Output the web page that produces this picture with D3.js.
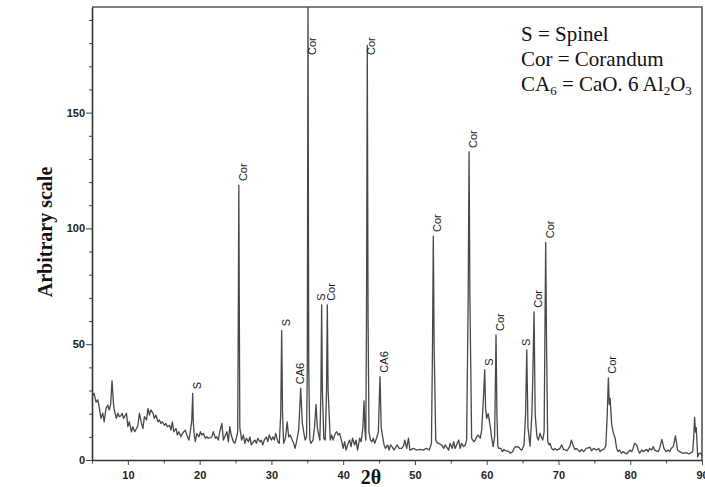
<!DOCTYPE html>
<html>
<head>
<meta charset="utf-8">
<script src="https://cdn.jsdelivr.net/npm/d3@7"></script>
<style>
  html, body { margin: 0; padding: 0; background: #fff; }
  svg { display: block; }
</style>
</head>
<body>
<svg id="chart" width="705" height="487"></svg>
<script>
// XRD pattern: 2θ (degrees) and intensity (arbitrary units)
const twoTheta = [
  5.0, 5.3, 5.56, 5.8, 6.0, 6.25, 6.5, 6.7, 6.95, 7.2, 7.4, 7.6, 7.79, 8.0, 8.1, 8.4, 8.6, 8.8, 9.0, 9.2,
  9.4, 9.8, 10.0, 10.2, 10.5, 10.7, 10.95, 11.2, 11.4, 11.6, 11.9, 12.1, 12.3, 12.6, 12.8, 13.0, 13.2, 13.5, 13.7, 13.9,
  14.2, 14.4, 14.6, 14.8, 15.1, 15.3, 15.5, 15.8, 16.0, 16.2, 16.4, 16.7, 16.9, 17.1, 17.4, 17.6, 17.8, 18.0, 18.3, 18.5,
  18.7, 18.9, 19.03, 19.12, 19.25, 19.4, 19.6, 19.9, 20.1, 20.3, 20.5, 20.8, 21.0, 21.2, 21.5, 21.7, 21.9, 22.2, 22.4, 22.6,
  22.8, 23.1, 23.3, 23.5, 23.8, 24.0, 24.2, 24.4, 24.7, 24.9, 25.1, 25.3, 25.4, 25.46, 25.52, 25.6, 25.85, 26.1, 26.3, 26.5,
  26.8, 27.0, 27.2, 27.5, 27.7, 27.9, 28.1, 28.4, 28.6, 28.8, 29.0, 29.3, 29.5, 29.7, 30.0, 30.2, 30.4, 30.6, 30.9, 31.1,
  31.3, 31.43, 31.55, 31.7, 31.95, 32.2, 32.4, 32.6, 32.9, 33.1, 33.3, 33.5, 33.8, 34.08, 34.3, 34.5, 34.7, 34.9, 35.0, 35.1,
  35.2, 35.35, 35.5, 35.8, 36.0, 36.22, 36.4, 36.55, 36.75, 36.9, 37.0, 37.1, 37.3, 37.5, 37.68, 37.79, 37.9, 38.2, 38.4, 38.6,
  38.9, 39.1, 39.3, 39.5, 39.8, 40.0, 40.2, 40.4, 40.7, 40.9, 41.1, 41.3, 41.6, 41.8, 42.0, 42.3, 42.5, 42.75, 42.9, 43.05,
  43.15, 43.25, 43.36, 43.47, 43.6, 43.8, 44.0, 44.2, 44.4, 44.65, 44.9, 45.13, 45.3, 45.5, 45.7, 45.9, 46.2, 46.4, 46.6, 46.8,
  47.1, 47.5, 47.8, 48.15, 48.4, 48.6, 48.85, 49.1, 49.3, 49.8, 50.2, 50.7, 51.1, 51.6, 52.0, 52.3, 52.45, 52.56, 52.67, 52.9,
  53.1, 53.3, 53.7, 54.0, 54.2, 54.7, 54.9, 55.2, 55.4, 55.6, 55.9, 56.1, 56.3, 56.5, 56.8, 57.0, 57.2, 57.42, 57.54, 57.66,
  57.9, 58.2, 58.4, 58.6, 58.8, 59.1, 59.3, 59.6, 59.72, 59.85, 60.0, 60.2, 60.5, 60.7, 60.9, 61.1, 61.22, 61.3, 61.42, 61.55,
  61.7, 61.95, 62.2, 62.4, 62.6, 63.1, 63.3, 63.6, 63.8, 64.0, 64.5, 64.7, 64.9, 65.2, 65.42, 65.58, 65.75, 66.04, 66.3, 66.45,
  66.6, 66.75, 67.0, 67.2, 67.43, 67.6, 67.8, 68.0, 68.1, 68.22, 68.34, 68.5, 68.7, 68.82, 69.05, 69.3, 69.5, 69.75, 70.0, 70.2,
  70.45, 70.7, 71.2, 71.4, 71.6, 71.8, 72.1, 72.3, 72.5, 73.0, 73.2, 73.5, 73.9, 74.4, 74.6, 74.9, 75.3, 75.6, 75.8, 76.0,
  76.3, 76.6, 76.8, 76.95, 77.08, 77.2, 77.4, 77.6, 77.9, 78.1, 78.3, 78.5, 78.8, 79.0, 79.5, 79.96, 80.2, 80.4, 80.6, 80.9,
  81.1, 81.3, 81.6, 81.8, 82.3, 82.5, 82.7, 83.0, 83.2, 83.4, 83.9, 84.1, 84.4, 84.7, 85.0, 85.3, 85.5, 85.7, 86.0, 86.3,
  86.6, 86.9, 87.3, 87.8, 88.2, 88.7, 88.85, 88.97, 89.1, 89.2, 89.4, 89.6, 89.8, 90.0
];
const intensity = [
  27.5, 28.8, 25, 26, 23, 18, 20.2, 16.5, 22.3, 23.7, 21.6, 24, 34.2, 24, 21.6, 18, 20.2, 18.7, 19, 20.2,
  18, 20.2, 14.4, 16.5, 12.2, 14.4, 12.2, 13.6, 15, 20.2, 15.8, 13.6, 18.7, 17.3, 22.3, 19.4, 21.6, 20.2, 18, 19.4,
  16.5, 17.3, 15.8, 16.5, 15, 15.8, 14.4, 15, 12.9, 16.5, 12.2, 13.6, 10.8, 12.2, 10, 11.5, 12.2, 12.9, 10, 8.6,
  12.2, 17, 28.8, 16, 10.8, 7.9, 11.5, 10, 12.2, 10.8, 11.5, 9.4, 10, 9.4, 9.7, 10, 12.2, 9.4, 10, 8.6,
  12.2, 15.8, 8.6, 10, 12.2, 7.9, 14.4, 10.8, 7.9, 7.2, 9.4, 12, 70, 118.7, 70, 14, 8.6, 10.8, 7.2, 9.4,
  7.9, 10, 6.5, 7.9, 8.6, 7.2, 9.4, 7.9, 8.6, 6.5, 8.6, 10, 7.9, 10.8, 8.6, 10, 8.6, 11.5, 7.9, 7.2,
  20, 56, 20, 7.2, 9.4, 16.5, 10, 10.8, 8.6, 7.2, 5, 7.9, 12.9, 31, 16, 12.2, 8.6, 10, 40, 200,
  40, 9, 7.2, 8.6, 14, 24, 14, 11.5, 8.6, 30, 67, 30, 9.4, 8.6, 30, 67, 30, 8.6, 10.8, 8.6,
  11.5, 12.2, 10.8, 11.5, 7.9, 5, 7.9, 4.3, 7.2, 8.6, 5.8, 9.4, 6.5, 8.6, 4.3, 9.4, 7.9, 14, 25.5, 12,
  8.6, 60, 179, 60, 12, 8.6, 7.9, 9.4, 7.2, 9.4, 12, 36, 14, 10, 6.5, 5, 6.5, 4.3, 6.5, 5.8,
  4.3, 6.5, 5, 5, 6, 8.6, 5, 9.4, 4.3, 5, 4.3, 4.6, 4.3, 5, 4.3, 7.2, 50, 96.7, 50, 8.6,
  7.5, 7.2, 6.5, 5, 6.5, 4.3, 7.2, 5, 7.9, 5, 7.2, 8.6, 5, 7.2, 5.8, 6.5, 8.6, 70, 133, 70,
  9.4, 7.9, 8.6, 10, 10.8, 9.4, 12.9, 30, 39, 22, 18, 20, 14.4, 9.4, 5.8, 10, 35, 54, 20, 6,
  5, 5, 3.6, 4.6, 4, 3.6, 2.9, 3.6, 5, 5.8, 5.5, 4.6, 4.3, 6.5, 20, 47.5, 14, 6, 20, 40,
  64, 20, 10, 8.6, 11.6, 10, 8.6, 12, 50, 94, 50, 8, 6.5, 7.2, 5, 4.3, 5, 4.3, 4.6, 5,
  6.5, 4.6, 4, 5, 6, 8.6, 5.8, 4.6, 5, 3.6, 4.6, 3.6, 5, 5.5, 4, 5, 4.3, 5, 3.6, 4.3,
  4.6, 6, 20, 35.5, 24, 26.6, 15.8, 12.2, 9.4, 5, 3.6, 4.3, 2.9, 3.6, 2.6, 4.3, 3.6, 5, 7.2, 6.5,
  4.3, 2.9, 4.3, 3.6, 4.6, 3.6, 5, 4.3, 5.8, 4.3, 3.6, 5, 8.9, 5, 3.6, 4.3, 3.6, 5, 5.8, 10.4,
  4.3, 3.6, 2.9, 3.2, 2.6, 3.6, 10, 18.4, 12, 14, 1.4, 2.9, 3, 1.5
];

// Phase identification of the main reflections
const peakPositions = [19.03, 25.46, 31.43, 34.08, 35.1, 37.0, 37.79, 43.36, 45.13, 52.56, 57.54, 59.72, 61.3, 65.58, 66.6, 68.22, 76.95];
const peakPhases = ["S", "Cor", "S", "CA6", "Cor", "S", "Cor", "Cor", "CA6", "Cor", "Cor", "S", "Cor", "S", "Cor", "Cor", "Cor"];

// Axis ticks
const xMajorTicks = [10, 20, 30, 40, 50, 60, 70, 80, 90];
const xMinorTicks = [5, 15, 25, 35, 45, 55, 65, 75, 85];
const yMajorTicks = [0, 50, 100, 150];
const yMinorTicks = [10, 20, 30, 40, 60, 70, 80, 90, 110, 120, 130, 140, 160, 170, 180, 190];

const svg = d3.select("#chart");
const plotLeft = 92, plotRight = 702, plotTop = 7, plotBottom = 460;

const x = d3.scaleLinear().domain([5, 90]).range([plotLeft, plotRight]);
const y = d3.scaleLinear().domain([0, 195.6]).range([plotBottom, plotTop]);

const points = twoTheta.map((t, i) => [t, intensity[i]]);

svg.append("defs").append("clipPath").attr("id", "plot-clip")
  .append("rect").attr("x", plotLeft).attr("y", plotTop)
  .attr("width", plotRight - plotLeft).attr("height", plotBottom - plotTop);

// frame: top and right edges
svg.append("path")
  .attr("d", `M${plotLeft},${plotTop}H${plotRight}V${plotBottom}`)
  .attr("fill", "none").attr("stroke", "#555").attr("stroke-width", 1.6);

// diffraction trace
svg.append("path")
  .datum(points)
  .attr("clip-path", "url(#plot-clip)")
  .attr("fill", "none")
  .attr("stroke", "#474747")
  .attr("stroke-width", 1.3)
  .attr("stroke-linejoin", "round")
  .attr("d", d3.line().x(d => x(d[0])).y(d => y(d[1])));

// axes
const tickFont = "'Liberation Sans', Arial, sans-serif";
function styleAxis(g) {
  g.selectAll("path.domain").attr("stroke", "#333").attr("stroke-width", 1.6);
  g.selectAll(".tick line").attr("stroke", "#444").attr("stroke-width", 1);
  g.selectAll(".tick text").attr("fill", "#222").attr("font-family", tickFont)
    .attr("font-size", 11).attr("font-weight", "bold");
}

svg.append("g").attr("transform", `translate(0,${plotBottom})`)
  .call(d3.axisBottom(x).tickValues(xMinorTicks).tickSize(3.5).tickSizeOuter(0).tickFormat(""))
  .call(g => g.select(".domain").remove())
  .call(styleAxis);
svg.append("g").attr("transform", `translate(0,${plotBottom})`)
  .call(d3.axisBottom(x).tickValues(xMajorTicks).tickSize(5).tickSizeOuter(0).tickPadding(6).tickFormat(d3.format("d")))
  .call(styleAxis);

svg.append("g").attr("transform", `translate(${plotLeft},0)`)
  .call(d3.axisLeft(y).tickValues(yMinorTicks).tickSize(3).tickSizeOuter(0).tickFormat(""))
  .call(g => g.select(".domain").remove())
  .call(styleAxis);
svg.append("g").attr("transform", `translate(${plotLeft},0)`)
  .call(d3.axisLeft(y).tickValues(yMajorTicks).tickSize(6).tickSizeOuter(0).tickPadding(1).tickFormat(d3.format("d")))
  .call(styleAxis);

// peak labels, rotated, just above each reflection
function peakHeight(pos) {
  let best = 0;
  points.forEach(([t, v]) => { if (Math.abs(t - pos) < 0.05 && v > best) best = v; });
  return best;
}
const labelG = svg.append("g")
  .attr("font-family", tickFont).attr("font-size", 11).attr("fill", "#1a1a1a");
peakPositions.forEach((pos, i) => {
  const h = peakHeight(pos);
  const crowded = i + 1 < peakPositions.length && peakPositions[i + 1] - pos < 1.1;
  const px = x(pos) + (crowded ? 3 : 8);
  const py = Math.max(y(h) - 4, plotTop + 48);
  labelG.append("text")
    .attr("transform", `translate(${px},${py}) rotate(-90)`)
    .attr("text-anchor", "start")
    .text(peakPhases[i]);
});

// axis titles
svg.append("text")
  .attr("transform", `translate(52,232) rotate(-90)`)
  .attr("text-anchor", "middle")
  .attr("font-family", "'Liberation Serif', 'Times New Roman', serif")
  .attr("font-weight", "bold").attr("font-size", 20).attr("fill", "#111")
  .text("Arbitrary scale");

svg.append("text")
  .attr("x", 371).attr("y", 484)
  .attr("text-anchor", "middle")
  .attr("font-family", "'Liberation Serif', 'Times New Roman', serif")
  .attr("font-weight", "bold").attr("font-size", 20).attr("fill", "#111")
  .text("2θ");

// legend
const legend = svg.append("g")
  .attr("font-family", "'Liberation Serif', 'Times New Roman', serif")
  .attr("font-size", 21).attr("fill", "#111");
legend.append("text").attr("x", 521).attr("y", 41).text("S = Spinel");
legend.append("text").attr("x", 521).attr("y", 66).text("Cor = Corandum");
const ca = legend.append("text").attr("x", 521).attr("y", 91);
ca.append("tspan").text("CA");
ca.append("tspan").attr("font-size", 13).attr("dy", 4).text("6");
ca.append("tspan").attr("dy", -4).text(" = CaO. 6 Al");
ca.append("tspan").attr("font-size", 13).attr("dy", 4).text("2");
ca.append("tspan").attr("dy", -4).text("O");
ca.append("tspan").attr("font-size", 13).attr("dy", 4).text("3");
</script>
</body>
</html>
